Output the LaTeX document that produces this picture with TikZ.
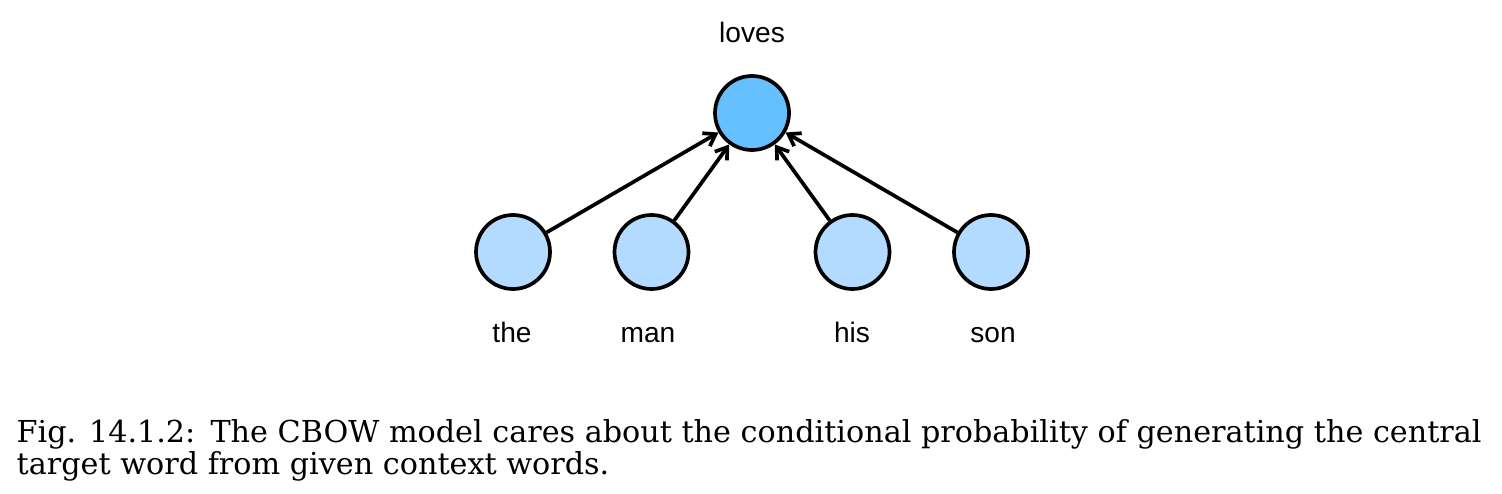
\documentclass[tikz,border=0pt]{standalone}
\usepackage{fontspec}
\setmainfont{DejaVu Serif}
\newfontfamily\labelfont{Liberation Sans}
\usetikzlibrary{arrows.meta}

\begin{document}
\begin{tikzpicture}[
    >={Straight Barb[length=1.1mm,width=1.5mm]},
    word/.style={circle, draw, line width=1.05pt, minimum size=0.74cm, inner sep=0pt},
    target/.style={word, fill=targetblue},
    context/.style={word, fill=contextblue},
    lbl/.style={anchor=base, inner sep=0pt, font=\labelfont\fontsize{8}{9.6}\selectfont},
    capline/.style={anchor=base west, inner sep=0pt, font=\fontsize{8.6}{11}\selectfont}
  ]
  \definecolor{targetblue}{RGB}{102,191,255}
  \definecolor{contextblue}{RGB}{179,218,255}
  \useasboundingbox (0, 0) rectangle (15.02, 4.94);

  % Target word
  \node[target] (loves) at (7.52, 3.81) {};
  \node[lbl] (lovesl) at (7.52, 4.517) {loves};

  % Context words
  \node[context] (the) at (5.13, 2.42) {};
  \node[context] (man) at (6.515, 2.42) {};
  \node[context] (his) at (8.525, 2.42) {};
  \node[context] (son) at (9.91, 2.42) {};

  \node[lbl] (thel) at (5.12, 1.513) {the};
  \node[lbl] (manl) at (6.48, 1.513) {man};
  \node[lbl] (hisl) at (8.52, 1.513) {his};
  \node[lbl] (sonl) at (9.93, 1.513) {son};

  % Arrows
  \foreach \w in {the, man, his, son} {
    \draw[->, line width=1.05pt] (\w) -- (loves);
  };

  % Caption
  \node[capline] (cap1) at (0.16, 0.517) {Fig. 14.1.2:\enspace The CBOW model cares about the conditional probability of generating the central};
  \node[capline] (cap2) at (0.16, 0.19) {target word from given context words.};
\end{tikzpicture}
\end{document}
